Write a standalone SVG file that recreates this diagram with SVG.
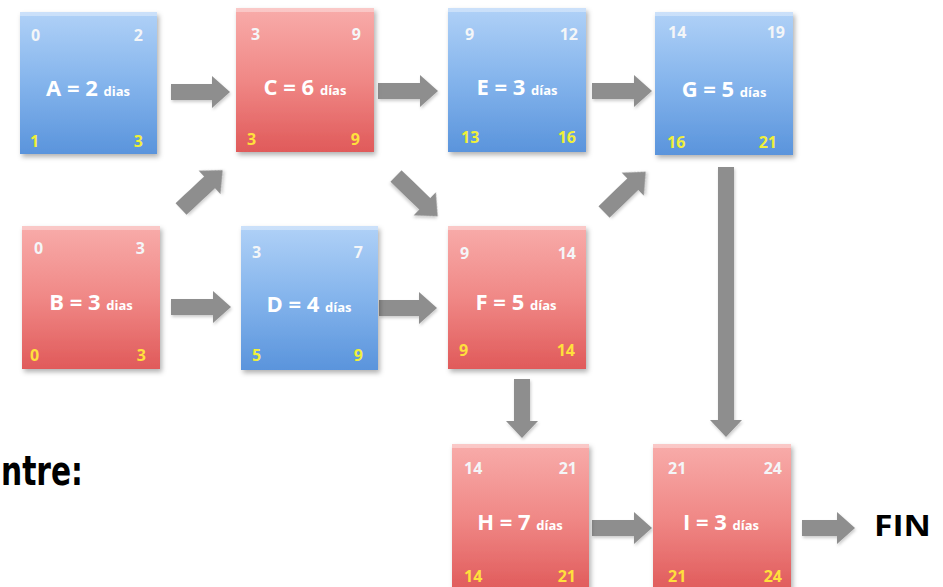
<svg xmlns="http://www.w3.org/2000/svg" width="943" height="587" viewBox="0 0 943 587">
<defs>
  <linearGradient id="gBlue" x1="0" y1="0" x2="0" y2="1">
    <stop offset="0" stop-color="#b0d1f7"/>
    <stop offset="0.5" stop-color="#84b4ec"/>
    <stop offset="1" stop-color="#5a94dc"/>
  </linearGradient>
  <linearGradient id="gRed" x1="0" y1="0" x2="0" y2="1">
    <stop offset="0" stop-color="#f8acaa"/>
    <stop offset="0.5" stop-color="#f08886"/>
    <stop offset="1" stop-color="#e05a5a"/>
  </linearGradient>
  <filter id="sh" x="-10%" y="-10%" width="125%" height="125%">
    <feDropShadow dx="2" dy="3" stdDeviation="2.5" flood-color="#000" flood-opacity="0.3"/>
  </filter>
  <filter id="ash" x="-20%" y="-20%" width="140%" height="140%">
    <feDropShadow dx="1" dy="2" stdDeviation="1.5" flood-color="#000" flood-opacity="0.2"/>
  </filter>
</defs>
<style>
  .blue { fill: url(#gBlue); filter: url(#sh); }
  .red { fill: url(#gRed); filter: url(#sh); }
  .hl { fill: #ffffff; opacity: 0.35; }
  .num { font-family: "Open Sans", "Liberation Sans", sans-serif; font-weight: bold; font-size: 16px; fill: #f4f6f8; }
  .ny { font-family: "Open Sans", "Liberation Sans", sans-serif; font-weight: bold; font-size: 16px; fill: #f0f03a; }
  .nyr { font-family: "Open Sans", "Liberation Sans", sans-serif; font-weight: bold; font-size: 16px; fill: #ffe03c; }
  .r { text-anchor: end; }
  .lbl { font-family: "Open Sans", "Liberation Sans", sans-serif; font-weight: bold; font-size: 22px; fill: #ffffff; text-anchor: middle; }
  .dias { font-size: 13px; }
  .arr { fill: #8e8e8e; filter: url(#ash); }
  .big { font-family: "Open Sans", "Liberation Sans", sans-serif; font-weight: bold; fill: #000000; }
</style>
<rect width="943" height="587" fill="#ffffff"/>

<g id="connectors">
  <path class="arr" d="M171,84 H212 V76 L230,92 L212,108 V100 H171 Z"/>
  <path class="arr" d="M378,83 H420 V75 L438,91 L420,107 V99 H378 Z"/>
  <path class="arr" d="M592,83 H634 V75 L652,91 L634,107 V99 H592 Z"/>
  <path class="arr" d="M171,299 H213 V291 L231,307 L213,323 V315 H171 Z"/>
  <path class="arr" d="M379,300 H419 V292 L437,308 L419,324 V316 H379 Z"/>
  <path class="arr" d="M592,520 H634 V512 L652,528 L634,544 V536 H592 Z"/>
  <path class="arr" d="M802,520 H837 V512 L855,528 L837,544 V536 H802 Z"/>
  <path class="arr" transform="translate(181,209) rotate(-43)" d="M0,-8 H39 V-16 L57,0 L39,16 V8 H0 Z"/>
  <path class="arr" transform="translate(396,176) rotate(44)" d="M0,-8 H40 V-16 L58,0 L40,16 V8 H0 Z"/>
  <path class="arr" transform="translate(604,212) rotate(-44)" d="M0,-8 H40 V-16 L58,0 L40,16 V8 H0 Z"/>
  <path class="arr" d="M514,379 V421 H506 L522,438 L538,421 H530 V379 Z"/>
  <path class="arr" d="M718,167 V420 H710 L726,437 L742,420 H734 V167 Z"/>
</g>

<g id="node-A">
  <rect class="blue" x="20" y="12" width="137" height="142"/>
  <rect class="hl" x="20" y="12" width="137" height="4"/>
  <text class="num" x="31" y="41">0</text>
  <text class="num r" x="143" y="41">2</text>
  <text class="lbl" x="88" y="96">A = 2 <tspan class="dias">dias</tspan></text>
  <text class="ny" x="30" y="147">1</text>
  <text class="ny r" x="143" y="147">3</text>
</g>

<g id="node-C">
  <rect class="red" x="236" y="8" width="138" height="144"/>
  <rect class="hl" x="236" y="8" width="138" height="4"/>
  <text class="num" x="251" y="40">3</text>
  <text class="num r" x="361" y="40">9</text>
  <text class="lbl" x="305" y="95">C = 6 <tspan class="dias">días</tspan></text>
  <text class="nyr" x="247" y="145">3</text>
  <text class="nyr r" x="360" y="145">9</text>
</g>

<g id="node-E">
  <rect class="blue" x="448" y="8" width="138" height="144"/>
  <rect class="hl" x="448" y="8" width="138" height="4"/>
  <text class="num" x="465" y="40">9</text>
  <text class="num r" x="578" y="40">12</text>
  <text class="lbl" x="517" y="95">E = 3 <tspan class="dias">días</tspan></text>
  <text class="ny" x="461" y="143">13</text>
  <text class="ny r" x="576" y="143">16</text>
</g>

<g id="node-G">
  <rect class="blue" x="655" y="12" width="138" height="143"/>
  <rect class="hl" x="655" y="12" width="138" height="4"/>
  <text class="num" x="668" y="38">14</text>
  <text class="num r" x="785" y="38">19</text>
  <text class="lbl" x="724" y="97">G = 5 <tspan class="dias">días</tspan></text>
  <text class="ny" x="667" y="148">16</text>
  <text class="ny r" x="777" y="148">21</text>
</g>

<g id="node-B">
  <rect class="red" x="22" y="226" width="138" height="143"/>
  <rect class="hl" x="22" y="226" width="138" height="4"/>
  <text class="num" x="34" y="254">0</text>
  <text class="num r" x="145" y="254">3</text>
  <text class="lbl" x="91" y="310">B = 3 <tspan class="dias">dias</tspan></text>
  <text class="nyr" x="30" y="361">0</text>
  <text class="nyr r" x="146" y="361">3</text>
</g>

<g id="node-D">
  <rect class="blue" x="241" y="226" width="137" height="144"/>
  <rect class="hl" x="241" y="226" width="137" height="4"/>
  <text class="num" x="252" y="258">3</text>
  <text class="num r" x="363" y="258">7</text>
  <text class="lbl" x="309" y="312">D = 4 <tspan class="dias">días</tspan></text>
  <text class="ny" x="252" y="361">5</text>
  <text class="ny r" x="363" y="361">9</text>
</g>

<g id="node-F">
  <rect class="red" x="448" y="226" width="138" height="143"/>
  <rect class="hl" x="448" y="226" width="138" height="4"/>
  <text class="num" x="460" y="259">9</text>
  <text class="num r" x="576" y="259">14</text>
  <text class="lbl" x="516" y="310">F = 5 <tspan class="dias">días</tspan></text>
  <text class="nyr" x="459" y="356">9</text>
  <text class="nyr r" x="575" y="356">14</text>
</g>

<g id="node-H">
  <rect class="red" x="452" y="444" width="137" height="148"/>
  <rect class="hl" x="452" y="444" width="137" height="4"/>
  <text class="num" x="464" y="474">14</text>
  <text class="num r" x="577" y="474">21</text>
  <text class="lbl" x="520" y="530">H = 7 <tspan class="dias">días</tspan></text>
  <text class="nyr" x="464" y="582">14</text>
  <text class="nyr r" x="576" y="582">21</text>
</g>

<g id="node-I">
  <rect class="red" x="653" y="444" width="138" height="148"/>
  <rect class="hl" x="653" y="444" width="138" height="4"/>
  <text class="num" x="668" y="474">21</text>
  <text class="num r" x="782" y="474">24</text>
  <text class="lbl" x="721" y="530">I = 3 <tspan class="dias">días</tspan></text>
  <text class="nyr" x="668" y="582">21</text>
  <text class="nyr r" x="782" y="582">24</text>
</g>

<g id="node-FIN">
  <text class="big" x="874" y="536" font-size="28" textLength="57" lengthAdjust="spacingAndGlyphs">FIN</text>
</g>

<g id="label-ntre">
  <text x="1" y="485" font-family="'DejaVu Sans Condensed', 'DejaVu Sans', sans-serif" font-weight="bold" font-size="40" fill="#000" textLength="82" lengthAdjust="spacingAndGlyphs">ntre:</text>
</g>
</svg>
